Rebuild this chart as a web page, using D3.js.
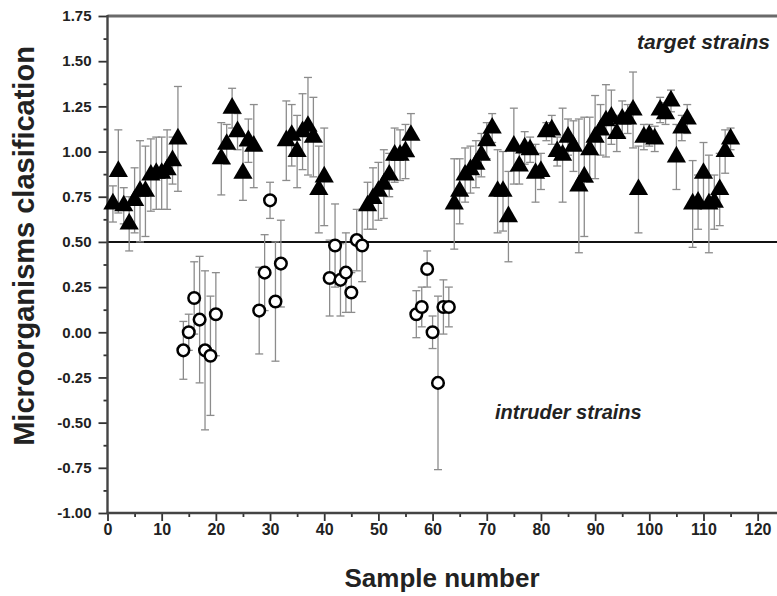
<!DOCTYPE html>
<html>
<head>
<meta charset="utf-8">
<script src="https://cdn.jsdelivr.net/npm/d3@7/dist/d3.min.js"></script>
<style>
  html, body { margin: 0; padding: 0; background: #fff; }
  svg { display: block; }
</style>
</head>
<body>
<svg id="chart" width="777" height="596"></svg>
<script>
// ---- Data ----
const targetSample = [1,2,3,4,5,6,7,8,9,10,11,12,13,
  21,22,23,24,25,26,27,
  33,34,35,36,37,38,39,40,
  48,49,50,51,52,53,54,55,56,
  64,65,66,67,68,69,70,71,72,73,74,75,76,77,78,79,80,81,82,83,84,85,86,87,88,89,90,
  91,92,93,94,95,96,97,98,99,100,101,102,103,104,105,106,107,108,109,110,111,112,113,114,115];
const targetValue = [0.71,0.89,0.70,0.60,0.73,0.78,0.78,0.87,0.88,0.88,0.90,0.95,1.07,
  0.96,1.04,1.24,1.11,0.88,1.06,1.03,
  1.06,1.09,1.00,1.11,1.14,1.08,0.79,0.86,
  0.70,0.74,0.78,0.82,0.87,0.98,0.98,1.00,1.09,
  0.71,0.78,0.87,0.90,0.93,0.98,1.06,1.13,0.78,0.78,0.64,1.03,0.92,1.02,1.01,0.88,0.89,1.11,1.12,1.00,0.98,1.08,1.03,0.81,0.86,1.01,1.08,
  1.12,1.17,1.19,1.10,1.18,1.18,1.23,0.79,1.08,1.09,1.07,1.23,1.21,1.28,0.97,1.13,1.18,0.71,0.72,0.88,0.71,0.72,0.79,1.00,1.07];
const targetError = [0.10,0.23,0.10,0.15,0.18,0.28,0.25,0.20,0.20,0.20,0.22,0.13,0.29,
  0.20,0.11,0.11,0.10,0.15,0.12,0.23,
  0.22,0.17,0.20,0.21,0.27,0.22,0.24,0.27,
  0.13,0.17,0.16,0.19,0.12,0.15,0.14,0.15,0.12,
  0.25,0.18,0.15,0.13,0.13,0.12,0.10,0.08,0.23,0.22,0.25,0.21,0.10,0.09,0.07,0.16,0.10,0.05,0.08,0.08,0.26,0.10,0.14,0.37,0.33,0.18,0.23,
  0.14,0.20,0.15,0.10,0.10,0.08,0.21,0.24,0.07,0.06,0.07,0.07,0.06,0.06,0.18,0.07,0.08,0.24,0.15,0.17,0.27,0.15,0.20,0.12,0.06];

const intruderSample = [14,15,16,17,18,19,20, 28,29,30,31,32, 41,42,43,44,45,46,47, 57,58,59,60,61,62,63];
const intruderValue  = [-0.10,0.00,0.19,0.07,-0.10,-0.13,0.10, 0.12,0.33,0.73,0.17,0.38, 0.30,0.48,0.29,0.33,0.22,0.51,0.48, 0.10,0.14,0.35,0.00,-0.28,0.14,0.14];
const intruderError  = [0.16,0.10,0.20,0.35,0.44,0.33,0.23, 0.24,0.21,0.10,0.33,0.24, 0.21,0.23,0.20,0.22,0.11,0.17,0.20, 0.13,0.11,0.10,0.09,0.48,0.15,0.11];

const xTicks = [0,10,20,30,40,50,60,70,80,90,100,110,120];
const yTicks = [-1.00,-0.75,-0.50,-0.25,0.00,0.25,0.50,0.75,1.00,1.25,1.50,1.75];
const thresholdValue = 0.5;
const xTitle = "Sample number";
const yTitle = "Microorganisms clasification";
const targetLabel = "target strains";
const intruderLabel = "intruder strains";

// ---- Layout ----
const svg = d3.select("#chart");
const plotLeft = 107.5, plotRight = 775, plotTop = 16, plotBottom = 513;
const x = d3.scaleLinear().domain([0, 123.2]).range([plotLeft, plotRight]);
const y = d3.scaleLinear().domain([-1, 1.75]).range([plotBottom, plotTop]);

const fontMain = "'Liberation Sans', Arial, sans-serif";
const fontNarrow = "'Liberation Sans Narrow', 'Liberation Sans', Arial, sans-serif";
const fmtY = d => d3.format(".2f")(d).replace("\u2212", "-");

// Top frame line
svg.append("line")
  .attr("x1", plotLeft).attr("x2", 777).attr("y1", y(1.75)).attr("y2", y(1.75))
  .attr("stroke", "#6a6a6a").attr("stroke-width", 3);

// Threshold line
svg.append("line")
  .attr("x1", plotLeft).attr("x2", 777).attr("y1", y(thresholdValue)).attr("y2", y(thresholdValue))
  .attr("stroke", "#111").attr("stroke-width", 2);

// ---- Axes ----
const yAxisG = svg.append("g").attr("transform", `translate(${plotLeft},0)`)
  .call(d3.axisLeft(y).tickValues(yTicks).tickFormat(fmtY).tickSize(9).tickPadding(7));
const yMinor = svg.append("g").attr("transform", `translate(${plotLeft},0)`)
  .call(d3.axisLeft(y).tickValues(d3.range(-0.875, 1.75, 0.25)).tickFormat("").tickSize(4));
const xAxisG = svg.append("g").attr("transform", `translate(0,${plotBottom})`)
  .call(d3.axisBottom(x).tickValues(xTicks).tickFormat(d3.format("d")).tickSize(8).tickPadding(3));
const xMinor = svg.append("g").attr("transform", `translate(0,${plotBottom})`)
  .call(d3.axisBottom(x).tickValues(d3.range(5, 123, 10)).tickFormat("").tickSize(4));

[yAxisG, yMinor, xAxisG, xMinor].forEach(g => {
  g.select(".domain").remove();
  g.selectAll(".tick line").attr("stroke", "#333").attr("stroke-width", 1.8);
});
yAxisG.selectAll("text").attr("font-family", fontMain).attr("font-weight", "bold")
  .attr("font-size", 15).attr("fill", "#222");
xAxisG.selectAll("text").attr("font-family", fontNarrow).attr("font-weight", "bold")
  .attr("font-size", 16).attr("fill", "#222");

// axis lines
svg.append("line").attr("x1", plotLeft).attr("x2", plotLeft).attr("y1", plotTop - 1).attr("y2", plotBottom + 1)
  .attr("stroke", "#444").attr("stroke-width", 2.4);
svg.append("line").attr("x1", plotLeft - 1).attr("x2", 777).attr("y1", plotBottom).attr("y2", plotBottom)
  .attr("stroke", "#444").attr("stroke-width", 2.4);

// ---- Error bars ----
function errorBars(sample, value, err) {
  const g = svg.append("g").attr("stroke", "#8c8c8c").attr("stroke-width", 1.3).attr("fill", "none");
  sample.forEach((s, i) => {
    const cx = x(s), y1 = y(value[i] + err[i]), y2 = y(value[i] - err[i]);
    g.append("line").attr("x1", cx).attr("x2", cx).attr("y1", y1).attr("y2", y2);
    g.append("line").attr("x1", cx - 4).attr("x2", cx + 4).attr("y1", y1).attr("y2", y1);
    g.append("line").attr("x1", cx - 4).attr("x2", cx + 4).attr("y1", y2).attr("y2", y2);
  });
}
errorBars(intruderSample, intruderValue, intruderError);
errorBars(targetSample, targetValue, targetError);

// ---- Markers ----
const tri = d3.symbol().type(d3.symbolTriangle).size(160);
svg.append("g").selectAll("path").data(targetSample).join("path")
  .attr("d", tri)
  .attr("transform", (d, i) => `translate(${x(d)},${y(targetValue[i])})`)
  .attr("fill", "#000");

svg.append("g").selectAll("circle").data(intruderSample).join("circle")
  .attr("cx", d => x(d))
  .attr("cy", (d, i) => y(intruderValue[i]))
  .attr("r", 5.8)
  .attr("fill", "#fff")
  .attr("stroke", "#000")
  .attr("stroke-width", 2.5);

// ---- Labels ----
svg.append("text").attr("x", 770).attr("y", 49).attr("text-anchor", "end")
  .attr("font-family", fontMain).attr("font-weight", "bold").attr("font-style", "italic")
  .attr("font-size", 21).attr("fill", "#222").text(targetLabel);
svg.append("text").attr("x", 495).attr("y", 419)
  .attr("font-family", fontMain).attr("font-weight", "bold").attr("font-style", "italic")
  .attr("font-size", 20).attr("fill", "#222").text(intruderLabel);

svg.append("text").attr("x", 442).attr("y", 587).attr("text-anchor", "middle")
  .attr("font-family", fontMain).attr("font-weight", "bold").attr("font-size", 26)
  .attr("fill", "#222").text(xTitle);
svg.append("text").attr("transform", `translate(34,246) rotate(-90)`)
  .attr("text-anchor", "middle")
  .attr("font-family", fontMain).attr("font-weight", "bold").attr("font-size", 29)
  .attr("fill", "#222").text(yTitle);
</script>
</body>
</html>
